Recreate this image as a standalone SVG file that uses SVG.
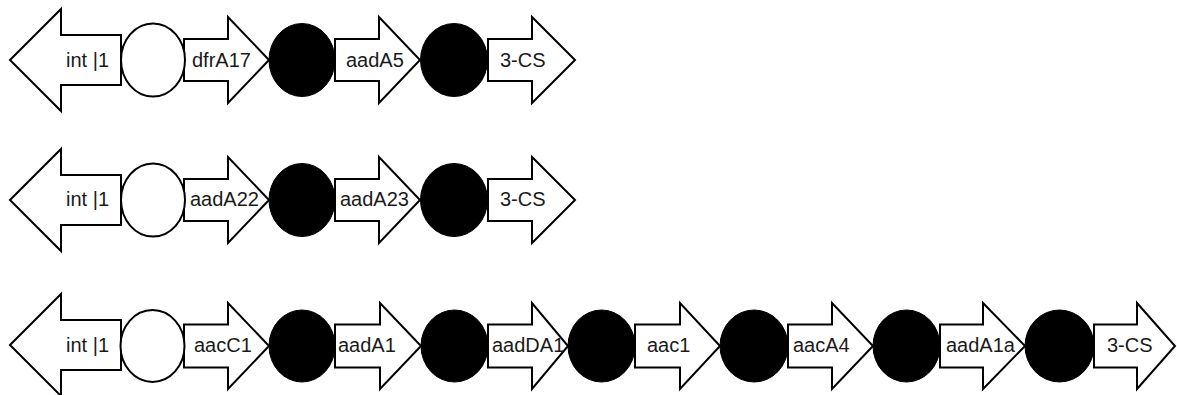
<svg xmlns="http://www.w3.org/2000/svg" width="1177" height="395" viewBox="0 0 1177 395">
<style>
.arr{fill:#fff;stroke:#000;stroke-width:2;stroke-linejoin:miter}
.wc{fill:#fff;stroke:#000;stroke-width:2}
.bc{fill:#000;stroke:#000;stroke-width:1}
.t{font-family:"Liberation Sans",Arial,sans-serif;font-size:20px;fill:#1a1a1a}
</style>
<rect width="1177" height="395" fill="#fff"/>
<!-- Row 1 -->
<g id="row1">
<g id="r1-int"><path class="arr" d="M10,60 L61,9 V35 H121 V85 H61 V111 Z"/><text class="t" x="66" y="67">int |1</text></g>
<g id="r1-dfrA17"><path class="arr" d="M184,39 H228 V17 L269,60 L228,103 V81 H184 Z"/><text class="t" x="192" y="67">dfrA17</text></g>
<g id="r1-aadA5"><path class="arr" d="M335,39 H379 V17 L420,60 L379,103 V81 H335 Z"/><text class="t" x="346" y="67">aadA5</text></g>
<g id="r1-3CS"><path class="arr" d="M488,39 H532 V17 L575,60 L532,103 V81 H488 Z"/><text class="t" x="500" y="67">3-CS</text></g>
<g id="r1-c1"><ellipse class="wc" cx="153" cy="60" rx="32" ry="36.5"/></g>
<g id="r1-c2"><ellipse class="bc" cx="302" cy="60" rx="33" ry="36.5"/></g>
<g id="r1-c3"><ellipse class="bc" cx="454" cy="60" rx="33.5" ry="36.5"/></g>
</g>
<!-- Row 2 -->
<g id="row2">
<g id="r2-int"><path class="arr" d="M10,200 L61,149 V175 H121 V225 H61 V251 Z"/><text class="t" x="66" y="206">int |1</text></g>
<g id="r2-aadA22"><path class="arr" d="M184,179 H228 V157 L269,200 L228,243 V221 H184 Z"/><text class="t" x="190" y="206">aadA22</text></g>
<g id="r2-aadA23"><path class="arr" d="M335,179 H379 V157 L420,200 L379,243 V221 H335 Z"/><text class="t" x="340" y="206">aadA23</text></g>
<g id="r2-3CS"><path class="arr" d="M488,179 H532 V157 L575,200 L532,243 V221 H488 Z"/><text class="t" x="500" y="206">3-CS</text></g>
<g id="r2-c1"><ellipse class="wc" cx="153" cy="200" rx="32" ry="36.5"/></g>
<g id="r2-c2"><ellipse class="bc" cx="302" cy="200" rx="33" ry="36.5"/></g>
<g id="r2-c3"><ellipse class="bc" cx="454" cy="200" rx="33.5" ry="36.5"/></g>
</g>
<!-- Row 3 -->
<g id="row3">
<g id="r3-int"><path class="arr" d="M10,345 L61,294 V320 H121 V370 H61 V396 Z"/><text class="t" x="66" y="352">int |1</text></g>
<g id="r3-aacC1"><path class="arr" d="M184,324.5 H228 V303 L269,346 L228,389 V367.5 H184 Z"/><text class="t" x="194" y="352">aacC1</text></g>
<g id="r3-aadA1"><path class="arr" d="M335,324.5 H380 V303 L421,346 L380,389 V367.5 H335 Z"/><text class="t" x="338" y="352">aadA1</text></g>
<g id="r3-aadDA1"><path class="arr" d="M488,324.5 H532 V303 L568,346 L532,389 V367.5 H488 Z"/><text class="t" x="492" y="352">aadDA1</text></g>
<g id="r3-aac1"><path class="arr" d="M635,324.5 H680 V303 L720,346 L680,389 V367.5 H635 Z"/><text class="t" x="647" y="352">aac1</text></g>
<g id="r3-aacA4"><path class="arr" d="M788,324.5 H832 V303 L873,346 L832,389 V367.5 H788 Z"/><text class="t" x="793" y="352">aacA4</text></g>
<g id="r3-aadA1a"><path class="arr" d="M940,324.5 H983 V303 L1025,346 L983,389 V367.5 H940 Z"/><text class="t" x="946" y="352">aadA1a</text></g>
<g id="r3-3CS"><path class="arr" d="M1094,324.5 H1137 V303 L1175,346 L1137,389 V367.5 H1094 Z"/><text class="t" x="1107" y="352">3-CS</text></g>
<g id="r3-c1"><ellipse class="wc" cx="152.5" cy="346" rx="32" ry="36"/></g>
<g id="r3-c2"><ellipse class="bc" cx="302" cy="346" rx="33" ry="36"/></g>
<g id="r3-c3"><ellipse class="bc" cx="454.5" cy="346" rx="33.5" ry="36"/></g>
<g id="r3-c4"><ellipse class="bc" cx="601.5" cy="346" rx="33.5" ry="36"/></g>
<g id="r3-c5"><ellipse class="bc" cx="754" cy="346" rx="34" ry="36"/></g>
<g id="r3-c6"><ellipse class="bc" cx="906.5" cy="346" rx="33.5" ry="36"/></g>
<g id="r3-c7"><ellipse class="bc" cx="1059.5" cy="346" rx="34.5" ry="36"/></g>
</g>
</svg>
